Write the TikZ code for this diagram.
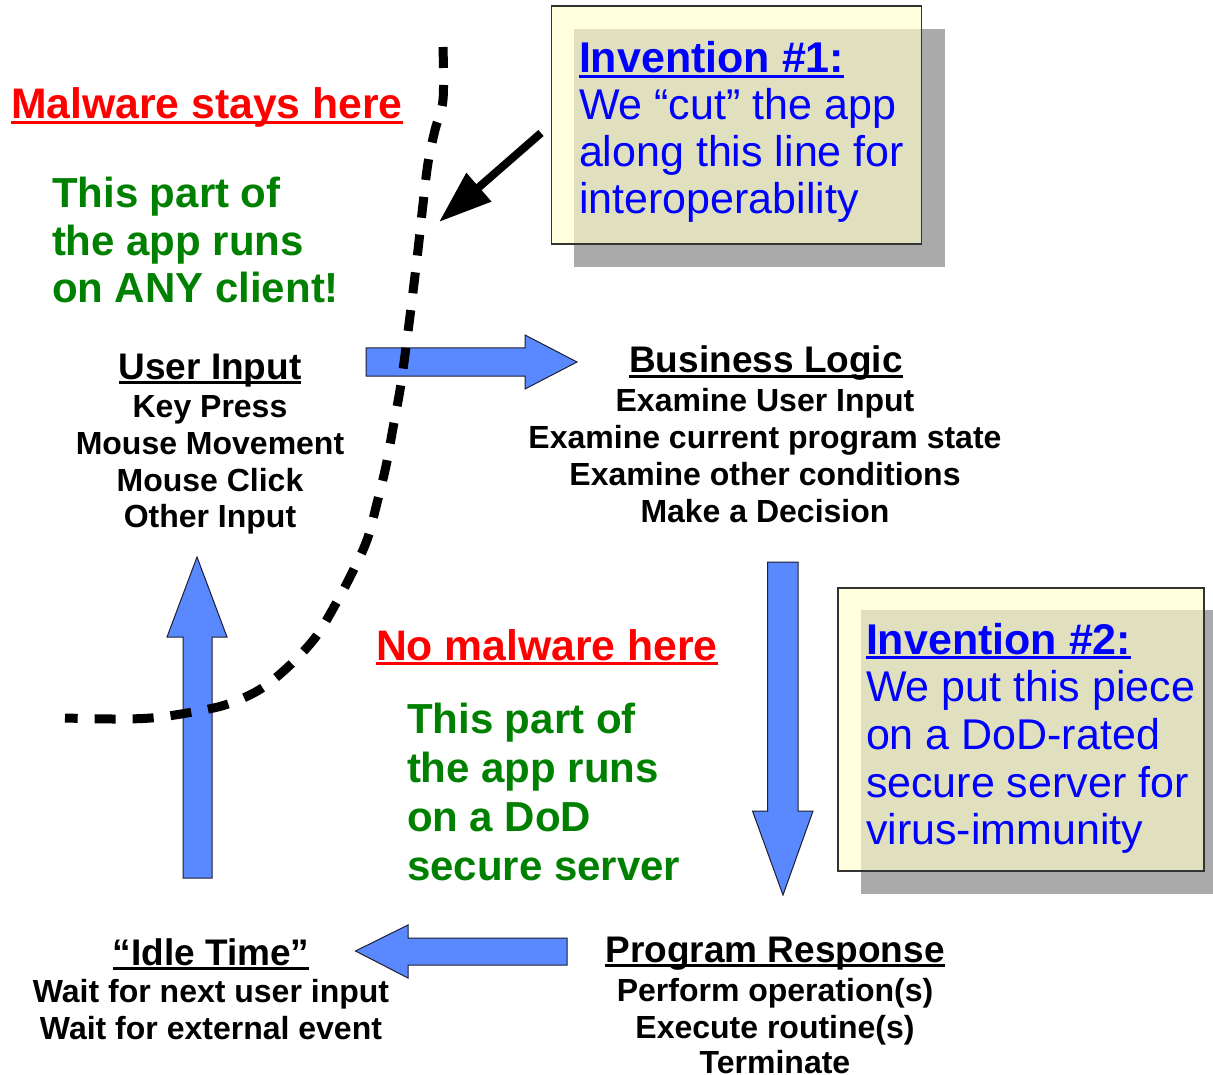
\documentclass[tikz,border=0pt]{standalone}
\usepackage{fontspec}
\setmainfont{Liberation Sans}
\usetikzlibrary{arrows.meta}
\newcommand{\myuline}[1]{\setbox0\hbox{#1}\leavevmode\rlap{\rule[-5pt]{\wd0}{3pt}}\box0}
\definecolor{arrowblue}{RGB}{89,136,255}
\definecolor{myred}{RGB}{255,0,0}
\definecolor{mygreen}{RGB}{0,128,0}
\definecolor{noteblue}{RGB}{0,0,255}
\definecolor{notefill}{RGB}{255,255,204}
\definecolor{shadowgray}{RGB}{170,170,170}
\definecolor{outlinecol}{RGB}{30,30,50}
\begin{document}
\begin{tikzpicture}[x=1pt,y=-1pt,
  every node/.style={inner sep=0pt, outer sep=0pt},
  big/.style={font=\fontsize{42}{48}\selectfont\bfseries, anchor=base west},
  redbig/.style={font=\fontsize{42.7}{48}\selectfont\bfseries, anchor=base west, text=myred},
  note/.style={font=\fontsize{43}{48}\selectfont, text=noteblue, anchor=base west},
  notehead/.style={font=\fontsize{43}{48}\selectfont\bfseries, text=noteblue, anchor=base west},
  head/.style={font=\fontsize{37}{42}\selectfont\bfseries, anchor=base},
  item/.style={font=\fontsize{32}{37}\selectfont\bfseries, anchor=base},
  blockarrow/.style={fill=arrowblue, draw=outlinecol, line width=1pt, line join=miter},
  notebox/.style={draw=black!80, line width=1.2pt, fill=notefill, fill opacity=0.64, draw opacity=1},
  shadowbox/.style={fill=shadowgray},
  cutline/.style={line width=9pt, dash pattern=on 21pt off 17pt},
  pointer/.style={line width=8pt, -{Triangle[length=53pt,width=36pt]}},
]
\useasboundingbox (0,0) rectangle (1213,1075);
\fill[white] (0,0) rectangle (1213,1075);
\clip (0,0) rectangle (1213,1075);

% ---- note boxes ----
\fill[shadowbox] (574,29) rectangle (945,267);
\node[notebox, minimum width=370pt, minimum height=238pt] (box1) at (736.5,125) {};
\fill[shadowbox] (861,610) rectangle (1226,894);
\node[notebox, minimum width=366pt, minimum height=283pt] (box2) at (1021,729.5) {};

\node[notehead] (i1a) at (579,73) {\myuline{Invention \#1:}};
\node[note] (i1b) at (579,120) {We “cut” the app};
\node[note] (i1c) at (579,167) {along this line for};
\node[note] (i1d) at (579,214) {interoperability};

\node[notehead] (i2a) at (866,654) {\myuline{Invention \#2:}};
\node[note] (i2b) at (866,701) {We put this piece};
\node[note] (i2c) at (866,749) {on a DoD-rated};
\node[note] (i2d) at (866,797) {secure server for};
\node[note] (i2e) at (866,844) {virus-immunity};

% ---- red and green labels ----
\node[redbig] (malware) at (11,119) {\myuline{Malware stays here}};
\node[big, text=mygreen] (g1a) at (52,208) {This part of};
\node[big, text=mygreen] (g1b) at (52,256) {the app runs};
\node[big, text=mygreen] (g1c) at (52,303) {on ANY client!};

\node[redbig] (nomal) at (376,660) {\myuline{No malware here}};
\node[big, text=mygreen] (g2a) at (407,733) {This part of};
\node[big, text=mygreen] (g2b) at (407,782) {the app runs};
\node[big, text=mygreen] (g2c) at (407,831) {on a DoD};
\node[big, text=mygreen] (g2d) at (407,880) {secure server};

% ---- cycle stages ----
\node[head] (ui) at (210,379) {\myuline{User Input}};
\node[item] (ui1) at (210,417) {Key Press};
\node[item] (ui2) at (210,454) {Mouse Movement};
\node[item] (ui3) at (210,491) {Mouse Click};
\node[item] (ui4) at (210,527) {Other Input};

\node[head] (bl) at (766,373) {\myuline{Business Logic}};
\node[item] (bl1) at (765,411) {Examine User Input};
\node[item] (bl2) at (765,448) {Examine current program state};
\node[item] (bl3) at (765,485) {Examine other conditions};
\node[item] (bl4) at (765,522) {Make a Decision};

\node[head] (pr) at (775,962) {\myuline{Program Response}};
\node[item] (pr1) at (775,1001) {Perform operation(s)};
\node[item] (pr2) at (775,1038) {Execute routine(s)};
\node[item, text depth=0pt] (pr3) at (775,1073) {Terminate};

\node[head] (it) at (211,965) {\myuline{“Idle Time”}};
\node[item] (it1) at (211,1002) {Wait for next user input};
\node[item] (it2) at (211,1039) {Wait for external event};

% ---- block arrows ----
\draw[blockarrow] (366,348) -- (525,348) -- (525,335) -- (577,362) -- (525,389) -- (525,376) -- (366,376) -- cycle;
\draw[blockarrow] (767.5,562) -- (798,562) -- (798,811) -- (813,811) -- (783,895) -- (752.5,811) -- (767.5,811) -- cycle;
\draw[blockarrow] (567,938) -- (408,938) -- (408,925) -- (355.5,951) -- (408,978) -- (408,965) -- (567,965) -- cycle;
\draw[blockarrow] (183,878) -- (183,637) -- (167,637) -- (197,557) -- (227,637) -- (212,637) -- (212,878) -- cycle;

% ---- cut line ----
\draw[cutline] plot[smooth, tension=0.55] coordinates {
  (443,47) (443,100) (435,130) (428,163) (423,204) (418,250) (412,300)
  (405,355) (400,390) (393,428) (386,466) (377,503) (367,540) (352,573)
  (334,607) (315,638) (288,667) (259,690) (225,705) (187,713) (151,718)
  (113,719) (65,718)};

% ---- pointer ----
\coordinate (ptrtail) at (541,133);
\coordinate (ptrtip) at (439,222);
\draw[pointer] (ptrtail) -- (ptrtip);
\end{tikzpicture}
\end{document}
